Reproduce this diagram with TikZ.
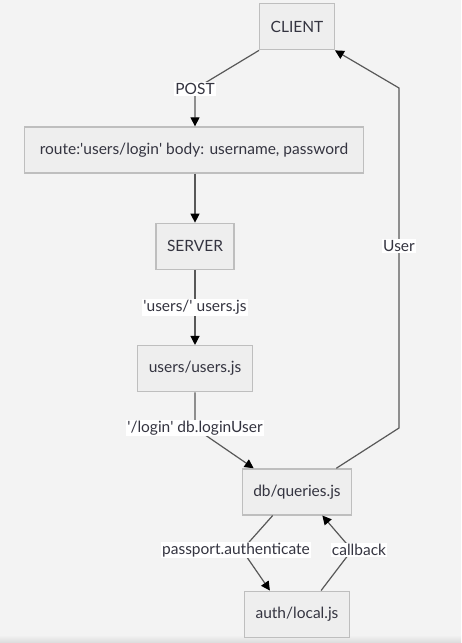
\documentclass[tikz,border=0pt]{standalone}
\usepackage{fontspec}
\setmainfont{Lato}
\usetikzlibrary{positioning,calc}
\usetikzlibrary{arrows.meta}
\definecolor{bgGray}{RGB}{243,243,243}
\definecolor{boxGray}{RGB}{238,238,238}
\definecolor{lineGray}{RGB}{190,190,190}
\definecolor{edgeGray}{RGB}{88,88,88}
\definecolor{textGray}{RGB}{52,52,64}
\newcommand{\q}{\textquotesingle}

\begin{document}
\begin{tikzpicture}[x=1pt,y=1pt,every text node part/.style={align=center}]
\tikzset{myFont/.style={font=\fontsize{15.5}{18}\selectfont,text=textGray}}
\tikzset{myBox/.style={draw=lineGray,line width=1.3pt,fill=boxGray,minimum height=46pt,inner xsep=11pt,myFont}}
\tikzset{myLabel/.style={fill=white,inner sep=1pt,myFont}}
\tikzset{myArrow/.style={draw=edgeGray,line width=1.2pt,-{Triangle[length=9pt,width=9pt,color=black]}}}

% background and bounding box
\fill[bgGray] (0,0) rectangle (461,-643);
\shade[top color=bgGray,bottom color=black!14] (0,-635) rectangle (461,-643);
\useasboundingbox (0,0) rectangle (461,-643);

\node[myBox,minimum width=339pt] (route) at (194,-150) {route:\q users/login\q{} body: username, password};
\node[myBox,above=76pt of route,xshift=103pt] (client) {CLIENT};
\node[myBox,below=49pt of route,xshift=1pt] (server) {SERVER};
\node[myBox,below=75pt of server] (users) {users/users.js};
\node[myBox,below=76pt of users,xshift=102pt] (queries) {db/queries.js};
\node[myBox,below=75pt of queries] (local) {auth/local.js};

% bends of the edges
\coordinate (postBend) at (195,-89);
\coordinate (loginBend) at (195,-428);
\coordinate (userLow) at (399,-428);
\coordinate (userHigh) at (399,-88);
\coordinate (passBend) at (242,-550);
\coordinate (backBend) at (352,-550);

\path[myArrow] (client.south west) -- (postBend) node[myLabel]{POST} -- (route.north -| server);
\path[myArrow] (route.south -| server) -- (server);
\path[myArrow] (server) -- node[myLabel]{\q users/\q{} users.js} (users);
\path[myArrow] (users) -- (loginBend) node[myLabel]{\q/login\q{} db.loginUser} -- ([xshift=12pt]queries.north west);
\path[myArrow] ([xshift=-16pt]queries.north east) -- (userLow) -- node[myLabel,pos=0.535]{User} (userHigh) -- (client.south east);
\path[myArrow] ([xshift=31pt]queries.south west) -- (passBend) node[myLabel,xshift=-6pt]{passport.authenticate} -- ([xshift=26pt]local.north west);
\path[myArrow] ([xshift=-29pt]local.north east) -- (backBend) node[myLabel,xshift=7pt]{callback} -- ([xshift=-30pt]queries.south east);

\end{tikzpicture}
\end{document}
